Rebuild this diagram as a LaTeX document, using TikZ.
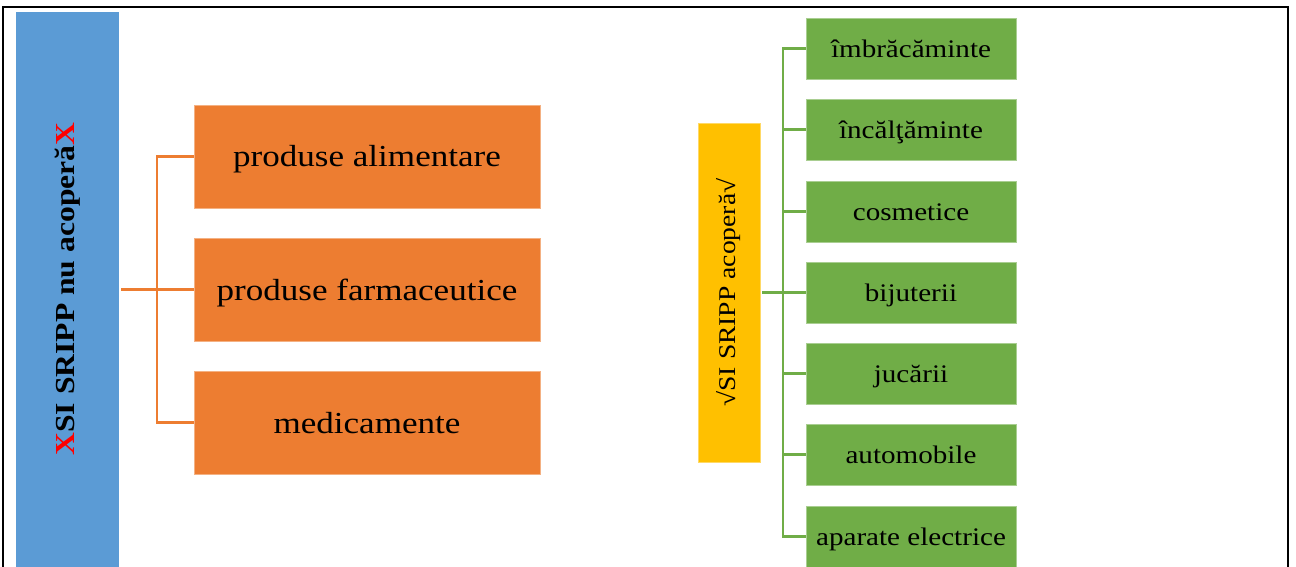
\documentclass[tikz,border=0pt]{standalone}
\usepackage{fontspec}
\setmainfont[FakeStretch=1.15]{Liberation Serif}
\definecolor{cblue}{HTML}{5B9BD5}
\definecolor{corange}{HTML}{ED7D31}
\definecolor{cyellow}{HTML}{FFC000}
\definecolor{cgreen}{HTML}{70AD47}
\definecolor{cred}{HTML}{FF0000}
\tikzset{
  obox/.style={fill=corange, draw=corange!60!white, line width=0.6pt, minimum width=346pt, minimum height=103pt, inner sep=0pt, text height=21pt, text depth=0pt, font=\fontsize{30.5}{33}\selectfont, text=black},
  gbox/.style={fill=cgreen, draw=cgreen!60!white, line width=0.6pt, minimum width=210pt, minimum height=61pt, inner sep=0pt, text height=17.5pt, text depth=0pt, font=\fontsize{25.3}{28}\selectfont, text=black},
  oline/.style={draw=corange, line width=2.5pt},
  gline/.style={draw=cgreen, line width=2.5pt},
}
\begin{document}
\begin{tikzpicture}[x=1pt,y=-1pt]
\useasboundingbox (0,0) rectangle (1296,567);
\fill[white] (0,0) rectangle (1296,567);
% frame
\draw[black, line width=2.4pt] (3,570) -- (3,7) -- (1288,7) -- (1288,570);
% blue bar
\node[fill=cblue, minimum width=103pt, minimum height=560pt, inner sep=0pt, anchor=north west] (blue) at (16,12) {};
\node[rotate=90, font=\fontsize{27.5}{30}\selectfont\bfseries] (bluetxt) at (68,289) {\textcolor{cred}{X}SI SRIPP nu acoperă\textcolor{cred}{X}};
% orange boxes
\node[obox] (o1) at (367,156.5) {produse alimentare};
\node[obox] (o2) at (367,289.5) {produse farmaceutice};
\node[obox] (o3) at (367,422.5) {medicamente};
\coordinate (oj) at (157,289.5);
\draw[oline] (121,289.5) -- (o2.west);
\draw[oline] (o1.west) -| (oj) |- (o3.west);
% yellow box
\node[fill=cyellow, draw=cyellow!60!white, line width=0.6pt, minimum width=62pt, minimum height=339pt, inner sep=0pt] (yel) at (729,292.5) {};
\node[rotate=90, font=\fontsize{24}{27}\selectfont] (yeltxt) at (729,292.5) {√SI SRIPP acoperă√};
% green boxes
\node[gbox] (g1) at (911,48.5) {îmbrăcăminte};
\node[gbox] (g2) at (911,129.5) {încălţăminte};
\node[gbox] (g3) at (911,211.5) {cosmetice};
\node[gbox] (g4) at (911,292.5) {bijuterii};
\node[gbox] (g5) at (911,373.5) {jucării};
\node[gbox] (g6) at (911,454.5) {automobile};
\node[gbox] (g7) at (911,536.5) {aparate electrice};
\coordinate (gj) at (783,292.5);
\draw[gline] ([xshift=2pt]yel.east) -- (g4.west);
\draw[gline] (g1.west) -| (gj) |- (g7.west);
\foreach \g in {g2,g3,g5,g6} \draw[gline] (\g.west) -- (gj |- \g.west);
\end{tikzpicture}
\end{document}
